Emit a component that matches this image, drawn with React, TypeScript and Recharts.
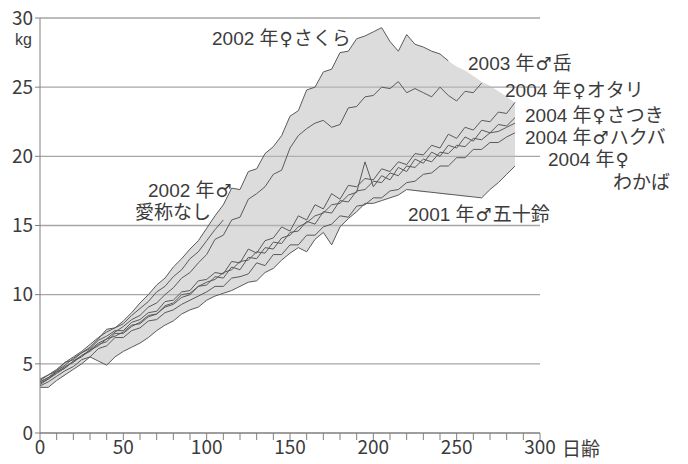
import React from "react";
import { ComposedChart, Line, Area, XAxis, YAxis, CartesianGrid } from "recharts";

// age in days, one sample every 5 days
const days = Array.from({ length: 58 }, (_, i) => i * 5);

// body weight (kg)
const sakura2002 = [
  3.7, 4.0, 4.5, 4.9, 5.4, 5.8, 6.2, 6.8, 7.5, 7.6,
  8.1, 8.7, 9.4, 10.0, 10.7, 11.2, 12.0, 12.6, 13.3, 13.9,
  14.8, 15.7, 16.5, 17.7, 17.6, 18.9, 19.1, 20.2, 20.7, 21.5,
  22.9, 23.3, 24.8, 25.0, 26.1, 26.3, 27.5, 27.6, 28.5, 28.7,
  29.0, 29.3, 28.3, 27.6, 28.8, 28.1, 27.9, 27.6, 27.4, 26.9,
  null, null, null, null, null, null, null, null,
];
const upper2 = [
  3.6, 3.9, 4.3, 4.7, 5.2, 5.6, 6.0, 6.5, 6.8, 7.3,
  7.7, 8.2, 8.5, 9.1, 9.4, 10.0, 10.5, 11.2, 11.6, 12.3,
  12.9, 14.0, 14.3, 15.4, 15.6, 16.9, 17.3, 17.8, 18.7, 19.0,
  20.6, 21.5, 22.0, 22.4, 22.6, 22.1, 22.3, 23.5, 23.6, 24.3,
  24.4, 25.0, 24.9, 25.4, 24.6, 24.9, 24.6, 24.3, 25.0, 24.4,
  24.0, 24.7, 24.6, 25.3, null, null, null, null,
];
const nameless2002 = [
  3.9, 4.2, 4.6, 5.1, 5.5, 5.9, 6.4, 6.9, 7.3, 7.6,
  7.9, 8.5, 9.0, 9.5, 10.2, 10.6, 11.3, 11.8, 12.6, 13.1,
  13.9, 14.7, 15.4, null, null, null, null, null, null, null,
  null, null, null, null, null, null, null, null, null, null,
  null, null, null, null, null, null, null, null, null, null,
  null, null, null, null, null, null, null, null,
];
const lowerA = [
  3.8, 4.2, 4.5, 5.1, 5.3, 5.8, 6.1, 6.7, 7.0, 7.4,
  7.4, 8.0, 8.2, 8.7, 8.8, 9.5, 9.6, 10.2, 10.3, 11.0,
  11.1, 11.6, 11.5, 12.4, 12.3, 13.3, 13.0, 13.9, 14.1, 14.9,
  14.6, 15.7, 15.4, 16.5, 16.2, 17.3, 16.9, 17.9, 17.8, 18.4,
  18.3, 19.1, 18.9, 19.6, 19.4, 20.2, 20.1, 20.8, 20.6, 21.6,
  21.3, 22.1, 21.9, 22.6, 22.5, 23.2, 23.1, 23.9,
];
const lowerB = [
  3.5, 3.9, 4.4, 4.7, 5.2, 5.5, 6.0, 6.3, 6.8, 7.0,
  7.3, 7.8, 7.9, 8.4, 8.6, 9.1, 9.3, 9.8, 10.0, 10.6,
  10.7, 11.3, 11.2, 12.0, 11.8, 12.7, 12.6, 13.4, 13.3, 14.1,
  14.3, 14.9, 15.2, 15.7, 15.9, 16.5, 16.6, 17.2, 17.4, 19.6,
  17.8, 18.6, 18.3, 19.2, 18.9, 19.8, 19.5, 20.3, 20.0, 20.8,
  20.6, 21.4, 21.1, 21.9, 21.7, 22.3, 22.2, 22.8,
];
const lowerC = [
  3.7, 4.0, 4.4, 4.8, 5.1, 5.6, 5.9, 6.4, 6.6, 7.2,
  7.2, 7.7, 8.0, 8.5, 8.6, 9.2, 9.4, 10.0, 10.1, 10.6,
  10.9, 11.1, 11.6, 11.8, 12.4, 12.5, 13.1, 13.0, 13.8, 13.7,
  14.5, 14.6, 15.3, 15.1, 16.0, 15.9, 16.8, 16.7, 17.5, 17.6,
  18.2, 18.1, 18.8, 18.6, 19.3, 19.2, 19.8, 19.6, 20.3, 20.2,
  20.8, 20.7, 21.3, 21.2, 21.7, 21.8, 22.1, 22.4,
];
const lowerD = [
  3.4, 3.7, 4.1, 4.5, 4.8, 5.3, 5.5, 6.1, 6.3, 6.9,
  6.9, 7.4, 7.6, 8.1, 8.2, 8.7, 8.9, 9.3, 9.6, 9.9,
  10.2, 10.6, 10.6, 11.2, 11.3, 11.5, 12.3, 12.1, 12.9, 12.9,
  13.6, 13.6, 14.3, 14.3, 14.9, 15.1, 15.7, 15.6, 16.4, 16.5,
  17.0, 17.0, 17.5, 17.6, 18.1, 18.2, 18.7, 18.8, 19.3, 19.3,
  19.9, 19.9, 20.5, 20.5, 21.0, 21.0, 21.4, 21.7,
];
const isuzu2001 = [
  3.3, 3.3, 3.8, 4.2, 4.6, 5.0, 5.5, 5.2, 4.9, 5.5,
  5.9, 6.2, 6.5, 6.9, 7.4, 7.8, 8.1, 8.6, 8.9, 9.1,
  9.6, 9.9, 10.1, 10.3, 10.6, 10.9, 11.0, 11.6, 11.9, 12.5,
  13.0, 13.4, 13.1, 14.0, 14.5, 13.6, 14.9, 15.5, 16.0, 16.6,
  16.6, 16.8, 17.0, 17.2, 17.6, null, null, null, null, null,
  null, null, null, 17.0, 17.6, 18.1, 18.7, 19.3,
];

// outline of the shaded range where it leaves the curves (days 225..285)
const hullDays = [225, 230, 235, 240, 245, 250, 255, 260, 265, 270, 275, 280, 285];
const hullTop = [null, null, null, null, null, 26.5, 26.2, 25.8, 25.4, 25.1, 24.7, 24.3, null];
const hullBottom = [17.5, 17.4, 17.4, 17.3, 17.2, 17.2, 17.1, 17.1, null, null, null, null, null];

const yTicks = [0, 5, 10, 15, 20, 25, 30];
const xTicks = Array.from({ length: 31 }, (_, i) => i * 10);

const series = [sakura2002, upper2, nameless2002, lowerA, lowerB, lowerC, lowerD, isuzu2001];
const keys = ["s0", "s1", "s2", "s3", "s4", "s5", "s6", "s7"];

const rows = days.map((day, i) => {
  const row: any = { day };
  const vals: number[] = [];
  series.forEach((s, k) => {
    row[keys[k]] = s[i];
    if (s[i] != null) vals.push(s[i] as number);
  });
  const h = hullDays.indexOf(day);
  const lo = h >= 0 && hullBottom[h] != null ? hullBottom[h] : Math.min(...vals);
  const hi = h >= 0 && hullTop[h] != null ? hullTop[h] : Math.max(...vals);
  row.band = [lo, hi];
  return row;
});

const FONT = "'Liberation Sans', 'Noto Sans CJK JP', sans-serif";
const TICK_FONT = "'Noto Sans CJK JP', sans-serif";
const INK = "#3c3c3c";

// gender signs drawn a bit larger, like the full-width ones in the figure
function Sex({ c }: { c: string }) {
  return <span style={{ fontFamily: "'DejaVu Sans', sans-serif", fontSize: "0.95em", margin: "0 1px" }}>{c}</span>;
}

function Note({ x, y, children, size = 19 }: { x: number; y: number; children: React.ReactNode; size?: number }) {
  return (
    <div
      style={{
        position: "absolute",
        left: x,
        top: y,
        fontSize: size,
        lineHeight: 1,
        whiteSpace: "nowrap",
        color: INK,
        fontFamily: FONT,
      }}
    >
      {children}
    </div>
  );
}

export default function App() {
  return (
    <div style={{ position: "absolute", left: 0, top: 0, width: 688, height: 464, background: "#fff" }}>
      <ComposedChart width={688} height={464} data={rows} margin={{ top: 18, right: 148, bottom: 0, left: 0 }}>
        <CartesianGrid vertical={false} stroke="#a6a6a6" strokeWidth={1.4} />
        <XAxis
          dataKey="day"
          type="number"
          domain={[0, 300]}
          ticks={xTicks}
          interval={0}
          tickFormatter={(v: number) => (v % 50 === 0 ? String(v) : "")}
          height={31}
          tickSize={7}
          tickMargin={1}
          stroke="#808080"
          tick={{ fill: INK, fontSize: 19, fontFamily: TICK_FONT }}
        />
        <YAxis
          type="number"
          domain={[0, 30]}
          ticks={yTicks}
          width={40}
          tickSize={5}
          tickMargin={2}
          stroke="#808080"
          tick={{ fill: INK, fontSize: 19, fontFamily: TICK_FONT }}
        />
        <Area
          type="linear"
          dataKey="band"
          fill="#b9b9b9"
          fillOpacity={0.5}
          stroke="none"
          isAnimationActive={false}
        />
        {keys.map((k, idx) => (
          <Line
            key={k}
            type="linear"
            dataKey={k}
            stroke="#5a5a5a"
            strokeWidth={1}
            dot={false}
            connectNulls={idx === 7}
            isAnimationActive={false}
          />
        ))}
      </ComposedChart>
      <Note x={15} y={32} size={16}>kg</Note>
      <Note x={562} y={440}>日齢</Note>
      <Note x={212} y={29}>2002 年<Sex c="♀" />さくら</Note>
      <Note x={468} y={54}>2003 年<Sex c="♂" />岳</Note>
      <Note x={505} y={81}>2004 年<Sex c="♀" />オタリ</Note>
      <Note x={525} y={106}>2004 年<Sex c="♀" />さつき</Note>
      <Note x={525} y={128}>2004 年<Sex c="♂" />ハクバ</Note>
      <Note x={548} y={150}>2004 年<Sex c="♀" /></Note>
      <Note x={613} y={173}>わかば</Note>
      <Note x={148} y={181}>2002 年<Sex c="♂" /></Note>
      <Note x={135} y={203}>愛称なし</Note>
      <Note x={408} y={205}>2001 年<Sex c="♂" />五十鈴</Note>
    </div>
  );
}
